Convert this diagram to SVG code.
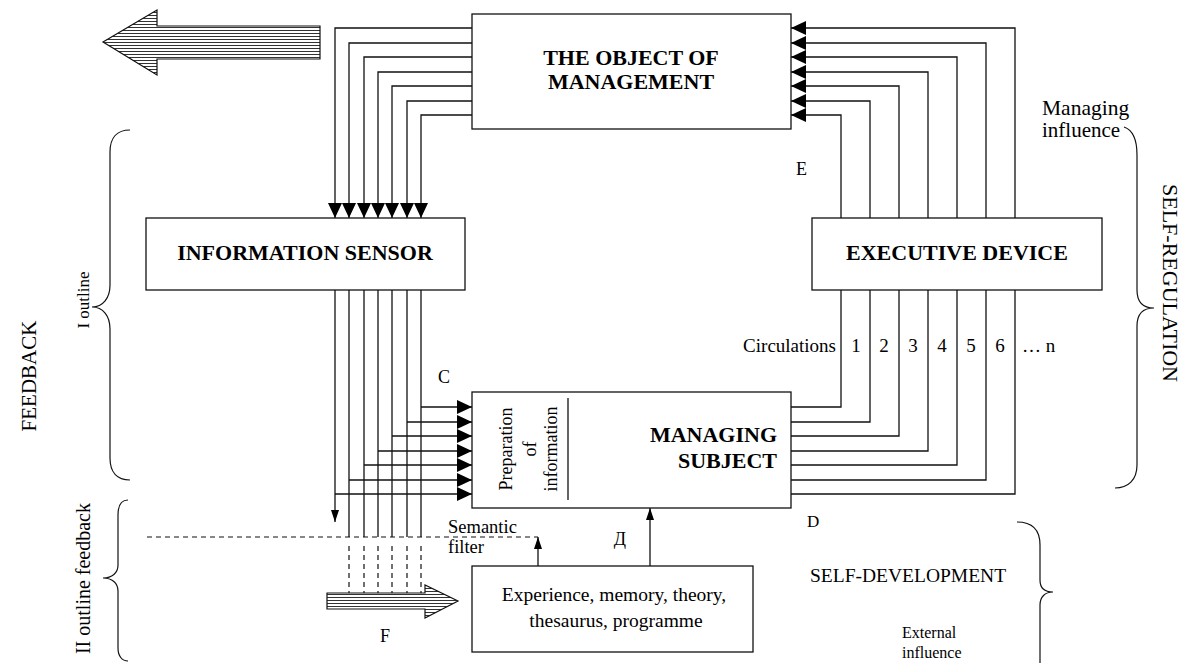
<svg xmlns="http://www.w3.org/2000/svg" width="1184" height="663" viewBox="0 0 1184 663">
<style>
text{font-family:"Liberation Serif","Times New Roman",serif;fill:#000}
.t{font-size:22px;font-weight:bold;text-anchor:middle}
.box{fill:#fff;stroke:#111;stroke-width:1.3}
.ln{fill:none;stroke:#111;stroke-width:1.3}
.ds{fill:none;stroke:#111;stroke-width:1.2;stroke-dasharray:5 4}
.br{fill:none;stroke:#111;stroke-width:1.2}
.hat{fill:url(#hatch);stroke:#111;stroke-width:1.2}
</style>
<defs>
<pattern id="hatch" patternUnits="userSpaceOnUse" width="10" height="3">
<rect width="10" height="3" fill="#fff"/>
<line x1="0" y1="0.5" x2="10" y2="0.5" stroke="#333" stroke-width="1"/>
</pattern>
<marker id="ah" viewBox="0 0 15 14" refX="15" refY="7" markerWidth="15" markerHeight="14" markerUnits="userSpaceOnUse" orient="auto">
<path d="M0,0 L15,7 L0,14 z" fill="#000"/>
</marker>
<marker id="sa" viewBox="0 0 12 8" refX="12" refY="4" markerWidth="12" markerHeight="8" markerUnits="userSpaceOnUse" orient="auto">
<path d="M0,0 L12,4 L0,8 z" fill="#000"/>
</marker>
</defs>

<g id="connectors">
<!-- object -> info sensor -->
<path class="ln" marker-end="url(#ah)" d="M472,28 H335 V218"/>
<path class="ln" marker-end="url(#ah)" d="M472,43 H349 V218"/>
<path class="ln" marker-end="url(#ah)" d="M472,57 H364 V218"/>
<path class="ln" marker-end="url(#ah)" d="M472,72 H378 V218"/>
<path class="ln" marker-end="url(#ah)" d="M472,86 H392 V218"/>
<path class="ln" marker-end="url(#ah)" d="M472,101 H407 V218"/>
<path class="ln" marker-end="url(#ah)" d="M472,115 H421 V218"/>
<!-- executive -> object -->
<path class="ln" marker-end="url(#ah)" d="M1015,218 V28 H791"/>
<path class="ln" marker-end="url(#ah)" d="M986,218 V43 H791"/>
<path class="ln" marker-end="url(#ah)" d="M957,218 V57 H791"/>
<path class="ln" marker-end="url(#ah)" d="M928,218 V72 H791"/>
<path class="ln" marker-end="url(#ah)" d="M899,218 V86 H791"/>
<path class="ln" marker-end="url(#ah)" d="M870,218 V101 H791"/>
<path class="ln" marker-end="url(#ah)" d="M841,218 V115 H791"/>
<!-- circulations: managing subject -> executive -->
<path class="ln" d="M791,407 H841 V290"/>
<path class="ln" d="M791,422 H870 V290"/>
<path class="ln" d="M791,436 H899 V290"/>
<path class="ln" d="M791,451 H928 V290"/>
<path class="ln" d="M791,465 H957 V290"/>
<path class="ln" d="M791,480 H986 V290"/>
<path class="ln" d="M791,494 H1015 V290"/>
<!-- info sensor verticals -->
<path class="ln" marker-end="url(#sa)" d="M335,290 V522"/>
<path class="ln" d="M349,290 V537 M364,290 V537 M378,290 V537 M392,290 V537 M407,290 V537 M421,290 V537"/>
<path class="ds" d="M349,546 V593 M364,546 V593 M378,546 V593 M392,546 V593 M407,546 V593 M421,546 V593"/>
<!-- info sensor -> managing subject -->
<path class="ln" marker-end="url(#ah)" d="M421,407 H472"/>
<path class="ln" marker-end="url(#ah)" d="M407,422 H472"/>
<path class="ln" marker-end="url(#ah)" d="M392,436 H472"/>
<path class="ln" marker-end="url(#ah)" d="M378,451 H472"/>
<path class="ln" marker-end="url(#ah)" d="M364,465 H472"/>
<path class="ln" marker-end="url(#ah)" d="M349,480 H472"/>
<path class="ln" marker-end="url(#ah)" d="M335,494 H472"/>
<!-- semantic filter -->
<path class="ds" d="M147,537 H538"/>
<path class="ln" marker-end="url(#sa)" d="M538,566 V537"/>
<!-- experience -> managing subject -->
<path class="ln" marker-end="url(#sa)" d="M650,566 V508"/>
</g>

<g id="arrow-out">
<polygon class="hat" points="320,26 157,26 157,10 103,42 157,75 157,59 320,59"/>
</g>
<g id="arrow-f">
<polygon class="hat" points="327,593 425,593 425,585 458,601 425,618 425,609 327,609"/>
</g>

<g id="object">
<rect class="box" x="472" y="14" width="319" height="115"/>
<text class="t" x="631" y="65">THE OBJECT OF</text>
<text class="t" x="631" y="89">MANAGEMENT</text>
</g>

<g id="sensor">
<rect class="box" x="146" y="218" width="319" height="72"/>
<text class="t" x="305" y="260">INFORMATION SENSOR</text>
</g>

<g id="executive">
<rect class="box" x="812" y="218" width="290" height="72"/>
<text class="t" x="957" y="260">EXECUTIVE DEVICE</text>
</g>

<g id="subject">
<rect class="box" x="472" y="392" width="319" height="116"/>
<line class="ln" x1="568" y1="398" x2="568" y2="500"/>
<g font-size="18" text-anchor="middle">
<text transform="translate(512,449) rotate(-90)">Preparation</text>
<text transform="translate(536,449) rotate(-90)">of</text>
<text transform="translate(557,449) rotate(-90)">information</text>
</g>
<text x="777" y="442" font-size="22" font-weight="bold" text-anchor="end">MANAGING</text>
<text x="777" y="468" font-size="22" font-weight="bold" text-anchor="end">SUBJECT</text>
</g>

<g id="experience">
<rect class="box" x="472" y="566" width="281" height="86"/>
<text x="614" y="601" font-size="19.5" text-anchor="middle">Experience, memory, theory,</text>
<text x="616" y="627" font-size="19.5" text-anchor="middle">thesaurus, programme</text>
</g>

<g id="braces">
<path class="br" d="M130,130 C117,130 110,138 110,152 L110,285 C110,298 103,307 92,307 C103,307 110,316 110,329 L110,458 C110,472 117,480 130,480"/>
<path class="br" d="M128,500 C122,500 118,505 118,515 L118,565 C118,573 112,578 103,578 C112,578 118,583 118,591 L118,648 C118,656 122,661 128,661"/>
<path class="br" d="M1124,127 C1133,130 1137,140 1137,155 L1137,290 C1137,302 1143,308 1154,308 C1143,308 1137,314 1137,326 L1137,465 C1137,480 1128,488 1115,488"/>
<path class="br" d="M1017,522 C1032,522 1040,530 1040,545 L1040,580 C1040,588 1045,592 1053,592 C1045,592 1040,597 1040,605 L1040,663"/>
</g>

<g id="labels">
<text transform="translate(36,376) rotate(-90)" font-size="21" text-anchor="middle">FEEDBACK</text>
<text transform="translate(89,300) rotate(-90)" font-size="17" text-anchor="middle">I outline</text>
<text transform="translate(90,503) rotate(-90)" font-size="20" text-anchor="end">II outline feedback</text>
<text transform="translate(1163,283) rotate(90)" font-size="22" text-anchor="middle">SELF-REGULATION</text>
<text x="1042" y="115" font-size="21.5">Managing</text>
<text x="1042" y="137" font-size="21">influence</text>
<text x="796" y="175" font-size="18">E</text>
<text x="438" y="383" font-size="18">C</text>
<text x="836" y="352" font-size="19" text-anchor="end">Circulations</text>
<g font-size="19" text-anchor="middle">
<text x="856" y="352">1</text>
<text x="884" y="352">2</text>
<text x="913" y="352">3</text>
<text x="942" y="352">4</text>
<text x="971" y="352">5</text>
<text x="1000" y="352">6</text>
</g>
<text x="1022" y="352" font-size="19">… n</text>
<text x="448" y="533" font-size="18.5">Semantic</text>
<text x="448" y="553" font-size="18.5">filter</text>
<text x="620" y="545" font-size="18" text-anchor="middle">Д</text>
<text x="807" y="527" font-size="17">D</text>
<text x="810" y="582" font-size="19.5">SELF-DEVELOPMENT</text>
<text x="902" y="638" font-size="16">External</text>
<text x="902" y="658" font-size="16">influence</text>
<text x="385" y="642" font-size="18" text-anchor="middle">F</text>
</g>
</svg>
